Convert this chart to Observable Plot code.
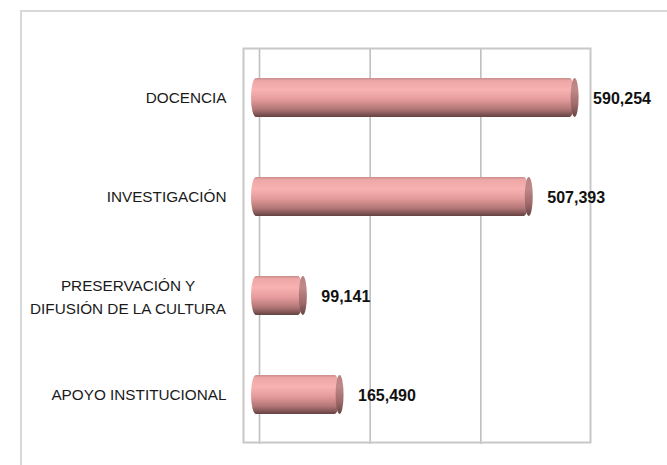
<!DOCTYPE html>
<html>
<head>
<meta charset="utf-8">
<script src="https://cdn.jsdelivr.net/npm/d3@7"></script>
<script src="https://cdn.jsdelivr.net/npm/@observablehq/plot@0.6"></script>
<style>
  html, body { margin: 0; padding: 0; background: #fff; overflow: hidden; }
  #wrap { position: relative; width: 667px; height: 465px; }
  #border { position: absolute; left: 20px; top: 10px; width: 700px; height: 500px;
            border: 2px solid #d9d9d9; box-sizing: border-box; pointer-events: none; }
  #chart { position: absolute; left: 0; top: 0; }
</style>
</head>
<body>
<div id="wrap"><div id="border"></div><div id="chart"></div></div>
<script>
const categories = ["DOCENCIA", "INVESTIGACIÓN", "PRESERVACIÓN Y\nDIFUSIÓN DE LA CULTURA", "APOYO INSTITUCIONAL"];
const values = [590254, 507393, 99141, 165490];
const gridTicks = [0, 200000, 400000];
const xDomain = [0, 600000];

const data = categories.map((c, i) => ({cat: c, value: values[i]}));
const fmt = d3.format(",");
const font = "'Liberation Sans', Arial, sans-serif";
const catSize = 15.3;

const ctx = document.createElement("canvas").getContext("2d");
ctx.font = catSize + "px " + font;
const multi = data.filter(d => d.cat.includes("\n"));
const single = data.filter(d => !d.cat.includes("\n"));
const multiW = multi.length ? Math.max(...multi[0].cat.split("\n").map(s => ctx.measureText(s).width)) : 0;

const chart = Plot.plot({
  width: 667,
  height: 465,
  marginLeft: 251,
  marginRight: 84,
  marginTop: 48,
  marginBottom: 21,
  x: {domain: xDomain, axis: null},
  y: {domain: categories, axis: null, paddingInner: 0.606, paddingOuter: 0.303},
  style: {background: "transparent", fontFamily: font},
  marks: [
    Plot.ruleX(gridTicks, {stroke: "#bfbfbf", strokeWidth: 1.6, dx: 8}),
    Plot.frame({stroke: "#c8c8c8", strokeWidth: 2, insetLeft: -8, insetRight: -7, insetBottom: 2}),
    Plot.barX(data, {x: "value", y: "cat", fill: "url(#barGrad)", insetRight: 3, rx: 5, ry: 19.5}),
    Plot.barX(data, {x1: "value", x2: "value", y: "cat", fill: "url(#capGrad)", insetLeft: -7, insetRight: -1, rx: 4, ry: 19.5}),
    Plot.text(data, {x: "value", y: "cat", text: d => fmt(d.value), textAnchor: "start", dx: 15, dy: 1,
      fontWeight: "bold", fontSize: 16, fill: "#111"}),
    Plot.text(single, {y: "cat", text: "cat", frameAnchor: "left", textAnchor: "end", dx: -25,
      fontSize: catSize, fill: "#1a1a1a"}),
    Plot.text(multi, {y: "cat", text: "cat", frameAnchor: "left", textAnchor: "middle", dx: -25 - multiW / 2,
      lineHeight: 1.5, dy: -1, fontSize: catSize, fill: "#1a1a1a"})
  ]
});

const ns = "http://www.w3.org/2000/svg";
const defs = document.createElementNS(ns, "defs");
function grad(id, stops) {
  const g = document.createElementNS(ns, "linearGradient");
  g.setAttribute("id", id);
  g.setAttribute("x1", "0"); g.setAttribute("y1", "0");
  g.setAttribute("x2", "0"); g.setAttribute("y2", "1");
  for (const [o, c] of stops) {
    const s = document.createElementNS(ns, "stop");
    s.setAttribute("offset", o);
    s.setAttribute("stop-color", c);
    g.appendChild(s);
  }
  defs.appendChild(g);
}
grad("barGrad", [[0, "#c88c8c"], [0.07, "#eea6a6"], [0.3, "#f8b2b2"], [0.55, "#e59b9b"], [0.8, "#b27676"], [1, "#654242"]]);
grad("capGrad", [[0, "#b98282"], [0.3, "#c08888"], [0.7, "#9c6868"], [1, "#684444"]]);
chart.insertBefore(defs, chart.firstChild);

document.getElementById("chart").appendChild(chart);
</script>
</body>
</html>
